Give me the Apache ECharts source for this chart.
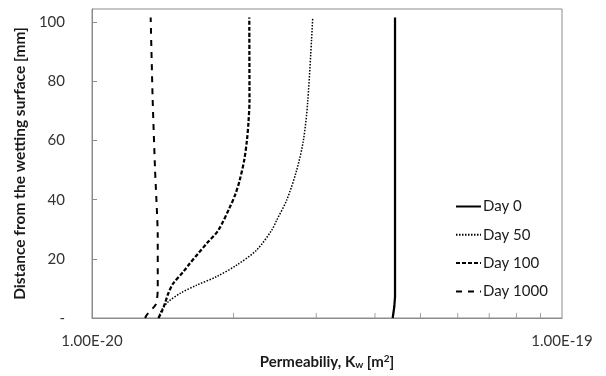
<!DOCTYPE html>
<html>
<head>
<meta charset="utf-8">
<script src="https://cdn.jsdelivr.net/npm/echarts@6/dist/echarts.min.js"></script>
<style>html,body{margin:0;padding:0;background:#fff}#c{width:606px;height:376px}</style>
</head>
<body>
<div id="c"></div>
<script>
// Permeability values are in units of 1e-20 m^2
const seriesNames = ['Day 0', 'Day 50', 'Day 100', 'Day 1000'];
const day0Depth = [0, 3.8, 7.2, 101.6];
const day0K = [4.363, 4.397, 4.413, 4.413];
const day50Depth = [0, 0.7, 2.7, 5.5, 8.3, 11.1, 14, 17.9, 23, 29.7, 33.1, 39.9, 50, 60.1, 73, 101.6];
const day50K = [1.385, 1.390, 1.407, 1.453, 1.539, 1.670, 1.842, 2.032, 2.241, 2.412, 2.472, 2.596, 2.726, 2.817, 2.877, 2.949];
const day100Depth = [0, 2.1, 5.0, 8.3, 11.7, 15.6, 18.5, 21.9, 25.2, 29.7, 37.6, 42, 46.6, 53.4, 60, 66, 73.6, 101.6];
const day100K = [1.385, 1.407, 1.430, 1.453, 1.489, 1.564, 1.616, 1.684, 1.754, 1.857, 1.966, 2.020, 2.062, 2.108, 2.136, 2.152, 2.163, 2.161];
const day1000Depth = [0, 1, 4.7, 9.5, 27.5, 50, 74, 101.6];
const day1000K = [1.297, 1.307, 1.368, 1.380, 1.380, 1.362, 1.346, 1.333];
const minorTickK = [2, 3, 4, 5, 6, 7, 8, 9];
const xMin = 1, xMax = 10;
const yTicks = [0, 20, 40, 60, 80, 100];

const pairs = (k, d) => k.map((v, i) => [v, d[i]]);
const FONT = 'Lato';

const chart = echarts.init(document.getElementById('c'), null, {renderer: 'canvas'});
chart.setOption({
  animation: false,
  backgroundColor: '#fff',
  textStyle: {fontFamily: FONT},
  grid: {left: 92, right: 44, top: 9, bottom: 58, show: true, borderColor: '#8c8c8c', borderWidth: 1, outerBoundsMode: 'none', containLabel: false},
  legend: {
    orient: 'vertical', left: 455, top: 199, padding: 0, itemWidth: 25, itemHeight: 14, itemGap: 13.3,
    data: seriesNames, itemStyle: {opacity: 0},
    textStyle: {fontFamily: FONT, fontSize: 15, color: '#1a1a1a', padding: [0,0,0,-3]}
  },
  xAxis: {
    type: 'log', logBase: 10, min: xMin, max: xMax,
    name: '{a|Permeabiliy, K}{s|w}{a| [m}{p|2}{a|]}',
    nameLocation: 'middle', nameGap: 31,
    nameTextStyle: {rich: {
      a: {fontFamily: FONT, fontWeight: 'bold', fontSize: 15, color: '#1a1a1a'},
      s: {fontFamily: FONT, fontWeight: 'bold', fontSize: 10, color: '#1a1a1a', verticalAlign: 'bottom', padding: [6,0,0,0]},
      p: {fontFamily: FONT, fontWeight: 'bold', fontSize: 10, color: '#1a1a1a', verticalAlign: 'top', padding: [0,0,6,0]}
    }},
    axisLine: {lineStyle: {color: '#8c8c8c'}},
    axisTick: {show: false},
    splitLine: {show: false},
    minorTick: {show: false},
    axisLabel: {margin: 16, fontSize: 15, color: '#333', fontFamily: FONT,
      formatter: v => (v * 1e-20).toExponential(2).toUpperCase()}
  },
  yAxis: {
    type: 'value', min: 0, max: 104.5, interval: 20,
    name: 'Distance from the wetting surface [mm]',
    nameLocation: 'middle', nameGap: 60,
    nameTextStyle: {fontFamily: FONT, fontWeight: 'bold', fontSize: 15.5, color: '#1a1a1a'},
    axisLine: {show: true, lineStyle: {color: '#8c8c8c'}},
    axisTick: {show: true, inside: true, length: 5, lineStyle: {color: '#8c8c8c'}},
    splitLine: {show: false},
    axisLabel: {margin: 27, fontSize: 15, color: '#333', fontFamily: FONT, showMaxLabel: false,
      formatter: v => (yTicks.indexOf(v) < 0 ? '' : (v === 0 ? '-' : String(v)))}
  },
  series: [
    {name: 'Day 0', type: 'line', data: pairs(day0K, day0Depth), symbol: 'none', lineStyle: {color: '#000', width: 2.25, type: 'solid'}, itemStyle: {color: '#000'}},
    {name: 'Day 50', type: 'line', data: pairs(day50K, day50Depth), symbol: 'none', smooth: 0.3, lineStyle: {color: '#000', width: 1.5, type: [1.5, 1.5]}, itemStyle: {color: '#000'}},
    {name: 'Day 100', type: 'line', data: pairs(day100K, day100Depth), symbol: 'none', smooth: 0.3, lineStyle: {color: '#000', width: 2.25, type: [4, 2]}, itemStyle: {color: '#000'}},
    {name: 'Day 1000', type: 'line', data: pairs(day1000K, day1000Depth), symbol: 'none', smooth: 0.2, lineStyle: {color: '#000', width: 2, type: [6, 6]}, itemStyle: {color: '#000'}},
    {name: 'minorTicks', type: 'scatter', data: minorTickK.map(k => [k, 0]), symbol: 'rect', symbolSize: [1, 5], symbolOffset: [0, -2.5], itemStyle: {color: '#8c8c8c'}, silent: true, clip: false, z: 1}
  ]
});
</script>
</body>
</html>
